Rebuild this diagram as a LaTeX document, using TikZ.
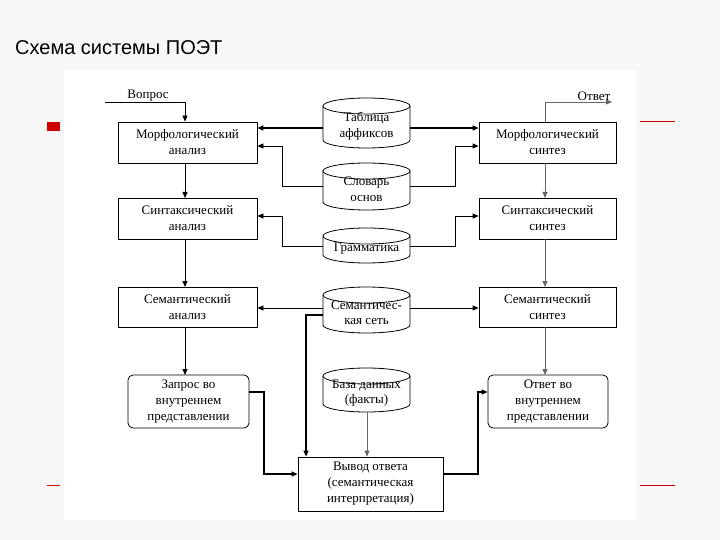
\documentclass[tikz,border=0pt]{standalone}
\usepackage{fontspec}
\setmainfont{Liberation Serif}
\newfontfamily\titlefont{Liberation Sans}
\usetikzlibrary{arrows.meta}
\begin{document}
\begin{tikzpicture}[x=1pt,y=-1pt,
  box/.style={draw,thick,align=center,font=\fontsize{13}{16}\selectfont,inner sep=0pt},
  rbox/.style={box,rounded corners=5pt},
  lbl/.style={font=\fontsize{13}{15.5}\selectfont,align=center,inner sep=0pt},
  ar/.style={-{Triangle[length=6pt,width=5pt]},line width=0.8pt},
  tar/.style={ar,line width=1.8pt},
  gar/.style={ar,draw=black!60}]
\useasboundingbox (0,0) rectangle (720,540);
\fill[black!3] (0,0) rectangle (720,540);
\fill[white] (64,70) rectangle (636,520);
\node[anchor=west,font=\titlefont\fontsize{20}{24}\selectfont,inner sep=0pt] (title) at (15,48) {Схема системы ПОЭТ};
\fill[red!80!black] (47,122) rectangle (60,131);
\draw[red!80!black,line width=1pt] (640,122) -- (675,122);
\draw[red!80!black,line width=1pt] (47,485) -- (60,485);
\draw[red!80!black,line width=1pt] (640,485) -- (675,485);
% boxes
\node[box,minimum width=139,minimum height=41] (ma) at (187.5,142.5) {Морфологический\\анализ};
\node[box,minimum width=139,minimum height=41] (sa) at (187.5,218.5) {Синтаксический\\анализ};
\node[box,minimum width=139,minimum height=40] (sema) at (187.5,307) {Семантический\\анализ};
\node[rbox,minimum width=121,minimum height=53] (za) at (188.5,401.5) {Запрос во\\внутреннем\\представлении};
\node[box,minimum width=137,minimum height=41] (ms) at (547.5,142.5) {Морфологический\\синтез};
\node[box,minimum width=137,minimum height=41] (ss) at (547.5,218.5) {Синтаксический\\синтез};
\node[box,minimum width=137,minimum height=40] (sems) at (547.5,307) {Семантический\\синтез};
\node[rbox,minimum width=120,minimum height=53] (oa) at (548,401.5) {Ответ во\\внутреннем\\представлении};
\node[box,minimum width=145,minimum height=54] (vy) at (370.5,484) {Вывод ответа\\(семантическая\\интерпретация)};
% cylinders
\newcommand{\cyl}[5]{% name, cx, top, bottom, text
  \draw[thick,fill=white] (#2-43.5,#3+8) -- (#2-43.5,#4-8) arc[start angle=180,end angle=0,x radius=43.5,y radius=8] -- (#2+43.5,#3+8);
  \draw[thick,fill=white] (#2,#3+8) ellipse[x radius=43.5,y radius=8];
  \node[lbl,minimum width=87] (#1) at (#2,{(#3+#4)/2+3}) {#5};}
\cyl{tab}{366.5}{98}{148}{Таблица\\аффиксов}
\cyl{slv}{366.5}{163}{210}{Словарь\\основ}
\cyl{gr}{366.5}{228}{263}{Грамматика}
\cyl{sn}{366.5}{287}{333}{Семантичес-\\кая сеть}
\cyl{bd}{366.5}{368}{412}{База данных\\(факты)}
% io
\coordinate (qin) at (105,102);
\coordinate (aout) at (612,102);
\draw[ar] (qin) -- (185,102) -- (ma.north -| 185,0);
\node[lbl,anchor=south] (vop) at (148,101) {Вопрос};
\draw[gar] (ms.north -| 545,0) -- (545,102) -- (aout);
\node[lbl,anchor=south] (otv) at (594,101) {Ответ};
% vertical
\draw[ar] (185,163) -- (185,198);
\draw[ar] (185,239) -- (185,287);
\draw[ar] (185,327) -- (185,375);
\draw[gar] (545,163) -- (545,198);
\draw[gar] (545,239) -- (545,287);
\draw[gar] (545,327) -- (545,375);
% cylinder links
\draw[tar] (323,128) -- (ma.east |- 0,128);
\draw[tar] (410,128) -- (ms.west |- 0,128);
\draw[ar] (323,186) -- (282,186) -- (282,146) -- (ma.east |- 0,146);
\draw[ar] (410,186) -- (455,186) -- (455,146) -- (ms.west |- 0,146);
\draw[ar] (323,246) -- (282,246) -- (282,216) -- (sa.east |- 0,216);
\draw[ar] (410,246) -- (455,246) -- (455,216) -- (ss.west |- 0,216);
\draw[ar] (323,308) -- (sema.east |- 0,308);
\draw[ar] (410,308) -- (sems.west |- 0,308);
\draw[tar,line width=1.3pt] (323,315) -- (306,315) -- (vy.north -| 306,0);
\draw[gar] (367,412) -- (vy.north -| 367,0);
\draw[tar,line width=1.3pt] (za.east |- 0,392) -- (264,392) -- (264,474) -- (vy.west |- 0,474);
\draw[tar,line width=1.3pt] (vy.east |- 0,474) -- (478,474) -- (478,392) -- (oa.west |- 0,392);
\end{tikzpicture}
\end{document}
